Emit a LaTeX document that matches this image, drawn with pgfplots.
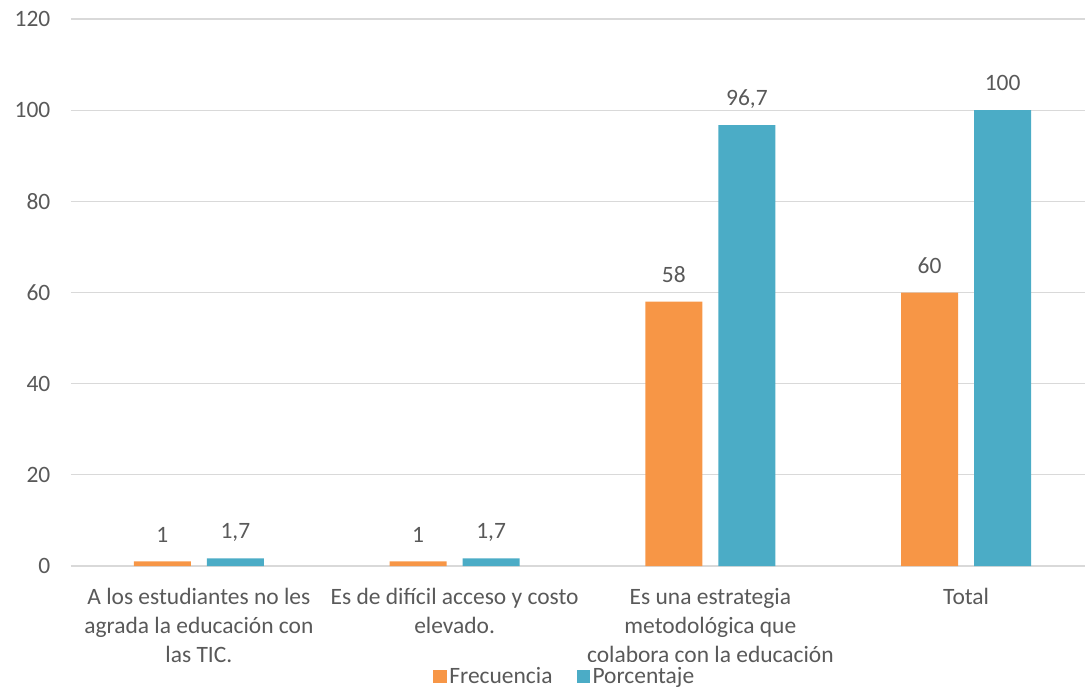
\documentclass[border=0pt]{standalone}
\usepackage{pgfplots}
\pgfplotsset{compat=1.18}
\usepackage{fontspec}
\setmainfont{Carlito}
\definecolor{orng}{HTML}{F79646}
\definecolor{blu}{HTML}{4BACC6}
\definecolor{txt}{HTML}{595959}
\definecolor{grd}{HTML}{D9D9D9}
\begin{document}
\begin{tikzpicture}
\path[use as bounding box] (-53.25pt,-93pt) rectangle (760.5pt,424.5pt);
\begin{axis}[
  scale only axis,
  width=767.25pt, height=410.25pt,
  at={(0,0)}, anchor=south west,
  ymin=0, ymax=120, ytick={0,20,...,120},
  xmin=-0.5, xmax=3.5,
  xtick={0,1,2,3},
  xticklabels={{A los estudiantes no les\\agrada la educación con\\las TIC.},{Es de difícil acceso y costo\\elevado.},{Es una estrategia\\metodológica que\\colabora con la educación},Total},
  x tick label style={align=center, font=\fontsize{17.6}{21.8}\selectfont, text=txt, anchor=north, yshift=-13pt},
  y tick label style={font=\fontsize{17.6}{18}\selectfont, text=txt, xshift=-12pt},
  /pgf/number format/assume math mode=true,
  axis line style={draw=none},
  major tick length=0pt,
  ymajorgrids, grid style={grd, line width=0.9pt},
  axis x line*=bottom,
  ybar, bar width=42.75pt,
  nodes near coords,
  every node near coord/.append style={font=\fontsize{17.6}{18}\selectfont, text=txt, anchor=south, text depth=0pt, yshift=11pt},
  /pgf/number format/use comma,
  /pgf/number format/precision=1,
  legend style={at={(0.483,-0.2025)}, anchor=center, draw=none, legend columns=2, font=\fontsize{17.6}{18}\selectfont, text=txt, /tikz/every even column/.append style={column sep=16pt}},
  legend image code/.code={\fill[#1] (0pt,-5pt) rectangle (10pt,5pt);},
]
\addplot[fill=orng, draw=none, bar shift=-27.4pt] coordinates {(0,1) (1,1) (2,58) (3,60)};
\addplot[fill=blu, draw=none, bar shift=27.4pt] coordinates {(0,1.7) (1,1.7) (2,96.7) (3,100)};
\legend{Frecuencia,Porcentaje}
\end{axis}
\end{tikzpicture}
\end{document}
